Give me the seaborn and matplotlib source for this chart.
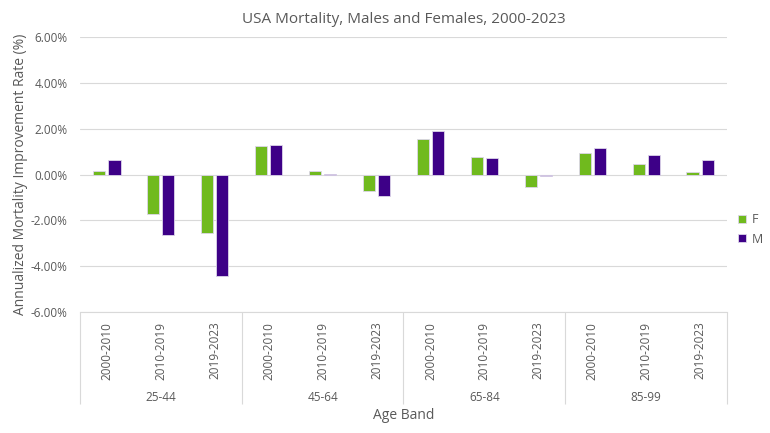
import seaborn as sns
import matplotlib.pyplot as plt
import pandas as pd
from matplotlib.ticker import FuncFormatter

age_bands = ['25-44', '45-64', '65-84', '85-99']
periods = ['2000-2010', '2010-2019', '2019-2023']
# annualized improvement rate (%) per age band, period order as above
female = [0.16, -1.73, -2.56,
          1.24, 0.16, -0.74,
          1.57, 0.76, -0.54,
          0.94, 0.48, 0.11]
male = [0.64, -2.62, -4.45,
        1.28, 0.04, -0.95,
        1.88, 0.70, -0.05,
        1.16, 0.83, 0.64]

rows = []
i = 0
for band in age_bands:
    for p in periods:
        rows.append({'cat': band + '|' + p, 'Sex': 'F', 'value': female[i]})
        rows.append({'cat': band + '|' + p, 'Sex': 'M', 'value': male[i]})
        i += 1
data = pd.DataFrame(rows)
cats = list(dict.fromkeys(data['cat']))

sns.set_style('white')
plt.rcParams['font.family'] = ['Open Sans', 'DejaVu Sans']
grey = '#595959'
light = '#D9D9D9'

fig = plt.figure(figsize=(7.7, 4.33), dpi=100)
ax = fig.add_axes([80 / 770, 121 / 433, 647 / 770, 275 / 433])

sns.barplot(data=data, x='cat', y='value', hue='Sex', order=cats,
            palette={'F': '#70BA1E', 'M': '#3D0087'}, saturation=1,
            width=0.56, gap=0.2, edgecolor='#ddd6ea', linewidth=0.6,
            ax=ax, zorder=3)

ax.set_ylim(-6, 6)
ax.set_yticks([-6, -4, -2, 0, 2, 4, 6])
ax.yaxis.set_major_formatter(FuncFormatter(lambda v, _: '{:.2f}%'.format(v)))
ax.yaxis.grid(True, color=light, linewidth=0.8, zorder=0)
ax.set_xlim(-0.5, len(cats) - 0.5)

for s in ['top', 'right', 'left']:
    ax.spines[s].set_visible(False)
ax.spines['bottom'].set_color(light)

ax.set_xticks(range(len(cats)))
ax.set_xticklabels([c.split('|')[1] for c in cats], rotation=90, color=grey, fontsize=8.5)
ax.set_xticks([-0.5 + 3 * k for k in range(len(age_bands) + 1)], minor=True)
ax.tick_params(axis='x', which='major', length=0, pad=7)
ax.tick_params(axis='x', which='minor', bottom=True, length=66, color=light, width=0.8)
ax.tick_params(axis='y', length=0, labelcolor=grey, labelsize=8.5, pad=9)

trans = ax.get_xaxis_transform()
for k, band in enumerate(age_bands):
    ax.text(3 * k + 1, -0.31, band, transform=trans, ha='center', va='center',
            color=grey, fontsize=8.5)

ax.set_xlabel('Age Band', color=grey, fontsize=10)
ax.xaxis.set_label_coords(0.5, -0.375)
ax.xaxis.label.set_va('center')
ax.set_ylabel('Annualized Mortality Improvement Rate (%)', color=grey, fontsize=10, labelpad=2)
ax.set_title('USA Mortality, Males and Females, 2000-2023', color=grey, fontsize=11, pad=10)

sns.move_legend(ax, loc='center left', bbox_to_anchor=(1.0, 0.3), frameon=False,
                title=None, handlelength=0.6, handleheight=0.6, labelcolor=grey,
                fontsize=9, handletextpad=0.5)

plt.savefig('out.png', dpi=100)
